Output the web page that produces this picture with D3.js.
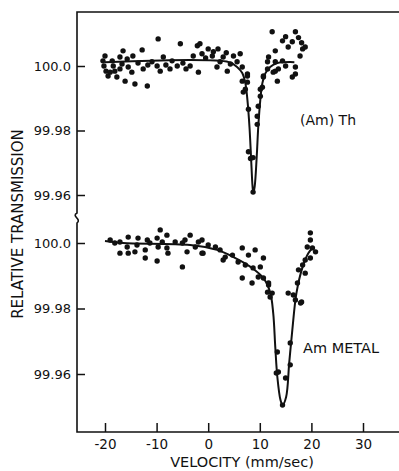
<!DOCTYPE html>
<html>
<head>
<meta charset="utf-8">
<script src="https://cdn.jsdelivr.net/npm/d3@7"></script>
<style>
  body { margin: 0; background: #fff; }
  svg text { font-family: "DejaVu Sans", sans-serif; fill: #111; }
</style>
</head>
<body>
<div id="chart"></div>
<script>
// velocity ticks
var xTicks = [-20, -10, 0, 10, 20, 30];
var xTickLabels = ["-20", "-10", "0", "10", "20", "30"];
var yTicks = [100.0, 99.98, 99.96];
var yTickLabels = ["100.0", "99.98", "99.96"];

// (Am)Th measured points
var thVel = [-9.7, -16.5, -12.8, -5.4, -2.1, -20.0, -20.4, -20.2, -19.8, -19.4, -11.8, -14.2, -16.1, -17.7, -19.0, -14.8, -12.6, -9.3, -7.4, -6.0,
  -3.5, -10.9, -8.7, -7.0, -2.9, -17.1, -15.7, -14.6, -18.4, -16.7, -9.9, -18.6, -18.1, -17.1, -15.5, -13.6, -11.7, -8.2, -4.9, -4.3,
  12.4, 16.9, 15.0, 14.4, 16.3, 18.3, 18.8, -1.6, 0.0, 1.9, -1.2, 0.8, 2.9, 4.9, 6.2, -1.9, 1.7, 3.7, 5.6, 6.6,
  4.3, 7.6, 7.6, 7.2, 10.5, 10.7, 11.5, 11.7, 13.0, 13.0, 14.4, 12.6, 13.6, 15.0, 16.9, 16.9, 16.3, 17.5, 18.1, 15.5,
  17.8, -0.5, 1.0, 3.5, 2.3, 6.6, 7.6, 6.8, 7.8, 7.8, 8.2, 8.7, 8.7, 9.5, 9.5, 9.7, 10.1, 10.1, 10.7, 11.5, 13.0, 13.4];
var thVal = [100.0084, 100.0047, 100.0050, 100.0069, 100.0063, 100.0031, 100.0016, 100.0000, 99.9984, 99.9969, 99.9938, 99.9944, 99.9953, 99.9966, 99.9981, 99.9981, 99.9991, 99.9984, 99.9991, 100.0000,
  100.0000, 100.0013, 100.0028, 100.0016, 100.0031, 100.0028, 100.0022, 100.0031, 100.0000, 100.0006, 100.0000, 100.0016, 99.9984, 99.9991, 99.9997, 100.0009, 100.0003, 100.0003, 100.0009, 99.9991,
  100.0106, 100.0106, 100.0091, 100.0078, 100.0075, 100.0053, 100.0059, 100.0069, 100.0053, 100.0053, 100.0038, 100.0031, 100.0028, 100.0031, 100.0038, 99.9981, 99.9997, 99.9984, 100.0013, 99.9997,
  100.0006, 99.9975, 99.9950, 99.9928, 99.9934, 99.9966, 99.9991, 100.0028, 100.0047, 100.0013, 100.0016, 99.9981, 99.9991, 100.0000, 99.9997, 99.9975, 99.9966, 100.0088, 100.0072, 100.0059,
  100.0031, 100.0025, 100.0044, 100.0041, 100.0013, 99.9953, 99.9969, 99.9919, 99.9866, 99.9734, 99.9713, 99.9716, 99.9609, 99.9819, 99.9844, 99.9875, 99.9906, 99.9928, 99.9969, 100.0013, 99.9984, 99.9953];

// (Am)Th fitted curve
var thFitVel = [-20, 4, 5.6, 6.6, 7.2, 7.6, 8.0, 8.3, 8.6, 8.75, 9.0, 9.4, 9.7, 10.1, 10.5, 11.1, 12.0, 13.4, 16.7];
var thFitVal = [100.0012, 100.0012, 99.9997, 99.9978, 99.9947, 99.9895, 99.9811, 99.9718, 99.9625, 99.9606, 99.9625, 99.9718, 99.9811, 99.9895, 99.9947, 99.9978, 99.9997, 100.0009, 100.0012];

// Am metal measured points
var metalVel = [-19.0, -18.1, -17.1, -15.5, -13.6, -11.8, -9.3, -9.9, -8.0, -3.5, -17.1, -15.5, -14.2, -12.2, -9.9, -12.2, -9.7, -8.0, -6.4, -5.0,
  -4.5, -7.8, -5.0, -4.1, -2.5, -1.2, -15.7, -13.8, -11.3, -8.9, -1.9, -1.2, 0.0, 1.4, -1.0, 2.3, 3.3, 2.9, 4.7, 6.6,
  9.1, 7.8, 5.8, 7.2, 8.7, 10.1, 10.7, 9.7, 6.6, 8.5, 10.7, 11.7, 11.5, 12.4, 12.0, 19.8, 19.8, 19.2, 20.2, 20.8,
  19.8, 18.8, 18.3, 17.5, 18.8, 17.3, 15.5, 16.5, 16.9, 18.1, 11.7, 13.4, 13.6, 13.2, 14.4, 15.0, 15.9, 15.9, 17.9];
var metalVal = [100.0009, 100.0000, 100.0003, 100.0018, 100.0015, 100.0009, 100.0040, 100.0015, 100.0024, 100.0024, 99.9969, 99.9969, 99.9973, 99.9954, 99.9945, 99.9979, 99.9988, 99.9985, 100.0003, 100.0000,
  100.0009, 99.9969, 99.9927, 99.9973, 99.9988, 99.9969, 99.9988, 99.9994, 100.0000, 100.0003, 100.0003, 100.0009, 99.9994, 99.9988, 99.9969, 99.9979, 99.9957, 99.9948, 99.9963, 99.9985,
  99.9979, 99.9963, 99.9942, 99.9933, 99.9924, 99.9927, 99.9954, 99.9896, 99.9893, 99.9878, 99.9893, 99.9872, 99.9850, 99.9847, 99.9835, 100.0031, 100.0009, 99.9988, 99.9985, 99.9973,
  99.9954, 99.9948, 99.9933, 99.9918, 99.9908, 99.9878, 99.9847, 99.9841, 99.9826, 99.9820, 99.9878, 99.9667, 99.9606, 99.9603, 99.9505, 99.9588, 99.9628, 99.9695, 99.9817];

// Am metal fitted curve
var metalFitVel = [-20, -16.5, -3.5, 1.7, 4.9, 8.2, 10.7, 12.0, 12.6, 13.0, 13.4, 14.0, 14.4, 15.1, 15.7, 16.3, 17.1, 18.3, 19.4, 20.4];
var metalFitVal = [100.0006, 100.0000, 99.9994, 99.9979, 99.9957, 99.9927, 99.9893, 99.9850, 99.9786, 99.9682, 99.9591, 99.9521, 99.9505, 99.9530, 99.9634, 99.9734, 99.9847, 99.9927, 99.9969, 99.9988];

var width = 399, height = 471;
var frameLeft = 77, frameTop = 12, frameBottom = 432, breakY = 218;

var svg = d3.select("#chart").append("svg")
    .attr("width", width)
    .attr("height", height);

var x = d3.scaleLinear().domain([-20, 30]).range([105, 363]);
var yTop = d3.scaleLinear().domain([99.96, 100.0]).range([195, 66]);
var yBot = d3.scaleLinear().domain([99.96, 100.0]).range([374, 243]);

// frame: top line, broken left axis, bottom line (no right side)
var frame = d3.path();
frame.moveTo(width, frameTop);
frame.lineTo(frameLeft, frameTop);
frame.lineTo(frameLeft, breakY - 5);
frame.bezierCurveTo(frameLeft - 6, breakY - 2, frameLeft + 5, breakY + 1, frameLeft, breakY + 5);
frame.lineTo(frameLeft, frameBottom);
frame.lineTo(width, frameBottom);
svg.append("path")
    .attr("d", frame.toString())
    .attr("fill", "none")
    .attr("stroke", "#111")
    .attr("stroke-width", 1.6);

// x axis
var xAxis = svg.append("g")
    .attr("transform", "translate(0," + frameBottom + ")")
    .call(d3.axisBottom(x).tickValues(xTicks).tickSize(-9).tickPadding(7)
        .tickFormat((d, i) => xTickLabels[i]));
xAxis.select(".domain").remove();
xAxis.selectAll("line").attr("stroke", "#111").attr("stroke-width", 1.5);
xAxis.selectAll("text").style("font-size", "13.5px").style("font-family", "DejaVu Sans");

// y axes, one per panel
[yTop, yBot].forEach(function (y) {
    var g = svg.append("g")
        .attr("transform", "translate(" + frameLeft + ",0)")
        .call(d3.axisLeft(y).tickValues(yTicks).tickSize(-8).tickPadding(6)
            .tickFormat((d, i) => yTickLabels[i]));
    g.select(".domain").remove();
    g.selectAll("line").attr("stroke", "#111").attr("stroke-width", 1.5);
    g.selectAll("text").style("font-size", "13px").style("font-family", "DejaVu Sans");
});

var line = d3.line().curve(d3.curveCatmullRom.alpha(0.5));

function drawPanel(y, vel, val, fitVel, fitVal) {
    svg.append("path")
        .attr("d", line(fitVel.map((v, i) => [x(v), y(fitVal[i])])))
        .attr("fill", "none")
        .attr("stroke", "#111")
        .attr("stroke-width", 2);
    svg.append("g").selectAll("circle")
        .data(vel)
        .enter().append("circle")
        .attr("cx", d => x(d))
        .attr("cy", (d, i) => y(val[i]))
        .attr("r", 2.7)
        .attr("fill", "#111");
}
drawPanel(yTop, thVel, thVal, thFitVel, thFitVal);
drawPanel(yBot, metalVel, metalVal, metalFitVel, metalFitVal);

// labels
svg.append("text")
    .attr("x", 300).attr("y", 125)
    .style("font-size", "14px")
    .text("(Am) Th");
svg.append("text")
    .attr("x", 303).attr("y", 353)
    .style("font-size", "14.5px")
    .text("Am METAL");

svg.append("text")
    .attr("x", 242).attr("y", 467)
    .attr("text-anchor", "middle")
    .style("font-size", "14.5px")
    .text("VELOCITY (mm/sec)");

svg.append("text")
    .attr("transform", "translate(23,224) rotate(-90)")
    .attr("text-anchor", "middle")
    .style("font-size", "15px")
    .text("RELATIVE TRANSMISSION");
</script>
</body>
</html>
